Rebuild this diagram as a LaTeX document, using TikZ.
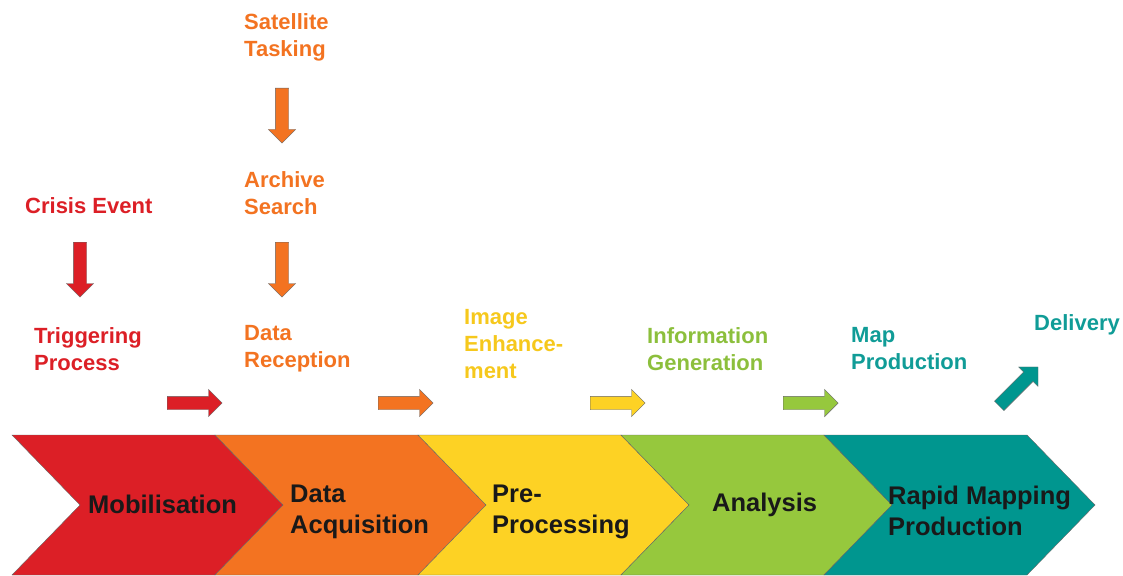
\documentclass[tikz,border=0pt]{standalone}
\usepackage{fontspec}
\setmainfont{Liberation Sans}
\usetikzlibrary{shapes.arrows,positioning}

\definecolor{mobred}{HTML}{DC1F26}
\definecolor{acqorange}{HTML}{F37321}
\definecolor{preyellow}{HTML}{FDD224}
\definecolor{anagreen}{HTML}{96C83D}
\definecolor{rmteal}{HTML}{00968F}
\definecolor{txtyellow}{HTML}{F6C81C}
\definecolor{txtgreen}{HTML}{8CBF3C}
\definecolor{txtteal}{HTML}{109C97}

\begin{document}
\begin{tikzpicture}[x=1pt,y=-1pt,
    steplabel/.style={font=\bfseries\fontsize{22}{27}\selectfont,align=left,anchor=west,inner sep=0pt},
    phaselabel/.style={font=\bfseries\fontsize{25.5}{31}\selectfont,align=left,anchor=west,inner sep=0pt,text=black!90},
    blockarrow/.style={single arrow,draw=black!60,thin,anchor=tail,inner xsep=0pt,inner ysep=6.5pt,
      minimum height=55pt,minimum width=27pt,single arrow head extend=7pt,single arrow tip angle=90}
  ]
  \useasboundingbox (0,0) rectangle (1123,575);

  %chevrons of the phases
  \foreach \i/\col in {0/mobred,1/acqorange,2/preyellow,3/anagreen,4/rmteal} {
    \pgfmathsetmacro{\L}{12+203*\i}
    \filldraw[fill=\col,draw=black!60,thin] (\L,435) -- ++(203,0) -- ++(68,70)
      -- ++(-68,70) -- ++(-203,0) -- ++(68,-70) -- cycle;
  }

  %phase names
  \node[phaselabel] (mob) at (88,504) {Mobilisation};
  \node[phaselabel] (acq) at (290,512) {Data\\Acquisition};
  \node[phaselabel] (pre) at (492,512) {Pre-\\Processing};
  \node[phaselabel] (ana) at (712,505) {Analysis};
  \node[phaselabel] (rmp) at (888,511) {Rapid Mapping\\Production};

  %steps above the phases
  \node[steplabel,text=mobred] (crisis) at (25,206) {Crisis Event};
  \node[steplabel,text=mobred] (trig) at (34,349) {Triggering\\Process};
  \node[steplabel,text=acqorange] (sat) at (244,37) {Satellite\\Tasking};
  \node[steplabel,text=acqorange] (arch) at (244,193) {Archive\\Search};
  \node[steplabel,text=acqorange] (recep) at (244,349) {Data\\Reception};
  \node[steplabel,text=txtyellow] (enh) at (464,344) {Image\\Enhance-\\ment};
  \node[steplabel,text=txtgreen] (info) at (647,349) {Information\\Generation};
  \node[steplabel,text=txtteal] (mapp) at (851,349) {Map\\Production};
  \node[steplabel,text=txtteal] (deliv) at (1034,325) {Delivery};

  %down arrows
  \node[blockarrow,fill=mobred,rotate=-90] (crisis-arr) at (80,242) {};
  \node[blockarrow,fill=acqorange,rotate=-90] (sat-arr) at (282,88) {};
  \node[blockarrow,fill=acqorange,rotate=-90] (arch-arr) at (282,242) {};

  %arrows to the next phase
  \node[blockarrow,fill=mobred] (trig-arr) at (167,403) {};
  \node[blockarrow,fill=acqorange] (recep-arr) at (378,403) {};
  \node[blockarrow,fill=preyellow] (enh-arr) at (590,403) {};
  \node[blockarrow,fill=anagreen] (info-arr) at (783,403) {};
  \node[blockarrow,fill=rmteal,rotate=45] (deliv-arr) at (999,406) {};
\end{tikzpicture}
\end{document}
